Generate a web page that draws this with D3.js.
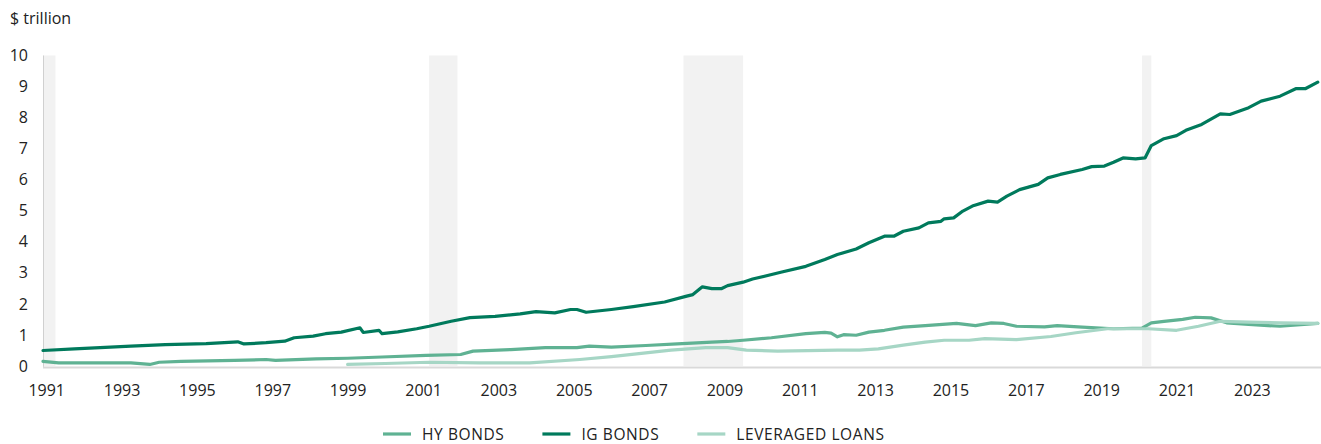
<!DOCTYPE html>
<html>
<head>
<meta charset="utf-8">
<script src="https://cdn.jsdelivr.net/npm/d3@7"></script>
<style>
  body { margin: 0; background: #fff; }
  svg { display: block; font-family: "Open Sans", sans-serif; }
  .tick-label { fill: #222; }
</style>
</head>
<body>
<svg id="chart"></svg>
<script>
// values, $ trillion
var igBonds = [
  ["1990-12", 0.50], ["1991-10", 0.55], ["1993-04", 0.64], ["1994-03", 0.69],
  ["1995-04", 0.72], ["1996-02", 0.78], ["1996-04", 0.71], ["1996-11", 0.75],
  ["1997-05", 0.80], ["1997-08", 0.91], ["1998-02", 0.96], ["1998-06", 1.04],
  ["1998-11", 1.09], ["1999-05", 1.23], ["1999-06", 1.08], ["1999-11", 1.15],
  ["1999-12", 1.04], ["2000-05", 1.10], ["2000-11", 1.20], ["2001-03", 1.28],
  ["2001-10", 1.44], ["2002-04", 1.56], ["2002-12", 1.60], ["2003-08", 1.68],
  ["2004-01", 1.75], ["2004-07", 1.71], ["2004-12", 1.82], ["2005-02", 1.82],
  ["2005-05", 1.73], ["2006-01", 1.82], ["2006-08", 1.91], ["2007-06", 2.06],
  ["2008-01", 2.25], ["2008-03", 2.30], ["2008-06", 2.55], ["2008-09", 2.49],
  ["2008-12", 2.49], ["2009-02", 2.59], ["2009-07", 2.70], ["2009-10", 2.80],
  ["2010-07", 3.02], ["2011-03", 3.21], ["2011-09", 3.43], ["2012-01", 3.59],
  ["2012-07", 3.77], ["2012-11", 3.97], ["2013-04", 4.18], ["2013-07", 4.18],
  ["2013-10", 4.34], ["2014-03", 4.45], ["2014-06", 4.61], ["2014-10", 4.66],
  ["2014-11", 4.74], ["2015-02", 4.77], ["2015-05", 4.99], ["2015-08", 5.15],
  ["2016-01", 5.31], ["2016-04", 5.28], ["2016-07", 5.47], ["2016-11", 5.68],
  ["2017-05", 5.85], ["2017-08", 6.06], ["2017-12", 6.17], ["2018-07", 6.33],
  ["2018-10", 6.42], ["2019-02", 6.44], ["2019-05", 6.56], ["2019-08", 6.70],
  ["2019-12", 6.67], ["2020-03", 6.70], ["2020-05", 7.10], ["2020-09", 7.32],
  ["2021-01", 7.42], ["2021-04", 7.59], ["2021-09", 7.78], ["2022-03", 8.12],
  ["2022-06", 8.10], ["2022-12", 8.32], ["2023-04", 8.53], ["2023-10", 8.69],
  ["2024-03", 8.93], ["2024-06", 8.93], ["2024-10", 9.14]
];

var hyBonds = [
  ["1990-12", 0.15], ["1991-05", 0.10], ["1993-04", 0.10], ["1993-10", 0.05],
  ["1994-01", 0.12], ["1994-08", 0.15], ["1996-01", 0.18], ["1996-11", 0.21],
  ["1997-02", 0.18], ["1998-03", 0.23], ["1999-01", 0.25], ["1999-12", 0.29],
  ["2001-02", 0.34], ["2002-01", 0.37], ["2002-05", 0.48], ["2003-05", 0.53],
  ["2004-04", 0.59], ["2005-02", 0.59], ["2005-06", 0.64], ["2006-01", 0.61],
  ["2006-12", 0.66], ["2007-10", 0.71], ["2008-09", 0.77], ["2009-02", 0.79],
  ["2009-07", 0.83], ["2010-04", 0.91], ["2011-03", 1.04], ["2011-09", 1.08],
  ["2011-11", 1.06], ["2012-01", 0.94], ["2012-03", 1.01], ["2012-07", 0.99],
  ["2012-11", 1.09], ["2013-04", 1.15], ["2013-10", 1.25], ["2014-05", 1.30],
  ["2015-03", 1.37], ["2015-09", 1.30], ["2016-02", 1.39], ["2016-06", 1.37],
  ["2016-10", 1.28], ["2017-07", 1.26], ["2017-11", 1.30], ["2018-07", 1.25],
  ["2019-05", 1.20], ["2020-02", 1.22], ["2020-05", 1.39], ["2020-09", 1.44],
  ["2021-03", 1.50], ["2021-07", 1.57], ["2021-12", 1.55], ["2022-05", 1.39],
  ["2022-12", 1.34], ["2023-10", 1.28], ["2024-10", 1.37]
];

var leveragedLoans = [
  ["1999-01", 0.05], ["2000-01", 0.08], ["2001-03", 0.12], ["2002-07", 0.10],
  ["2003-11", 0.10], ["2005-03", 0.21], ["2006-01", 0.30], ["2006-12", 0.42],
  ["2007-08", 0.51], ["2008-07", 0.59], ["2009-02", 0.59], ["2009-08", 0.51],
  ["2010-06", 0.48], ["2012-01", 0.51], ["2012-08", 0.51], ["2013-02", 0.55],
  ["2013-10", 0.67], ["2014-05", 0.77], ["2014-11", 0.83], ["2015-07", 0.83],
  ["2015-12", 0.88], ["2016-10", 0.85], ["2017-09", 0.95], ["2018-05", 1.07],
  ["2019-03", 1.20], ["2020-04", 1.20], ["2021-01", 1.15], ["2021-08", 1.28],
  ["2022-03", 1.44], ["2022-12", 1.41], ["2023-10", 1.39], ["2024-10", 1.37]
];

// US recessions (start, first month after end)
var recessions = [
  ["1990-07", "1991-04"], ["2001-03", "2001-12"],
  ["2007-12", "2009-07"], ["2020-02", "2020-05"]
];

var yearTicks = [1991, 1993, 1995, 1997, 1999, 2001, 2003, 2005, 2007, 2009,
  2011, 2013, 2015, 2017, 2019, 2021, 2023];
var valueTicks = [0, 1, 2, 3, 4, 5, 6, 7, 8, 9, 10];

var series = [
  { name: "HY BONDS", data: hyBonds, color: "#5fb293" },
  { name: "IG BONDS", data: igBonds, color: "#007a5c" },
  { name: "LEVERAGED LOANS", data: leveragedLoans, color: "#a6d6c5" }
];

var width = 1321;
var height = 444;
var parseMonth = d3.timeParse("%Y-%m");

var svg = d3.select("#chart")
  .attr("width", width)
  .attr("height", height);

var x = d3.scaleTime()
  .domain([parseMonth("1990-12"), parseMonth("2024-11")])
  .range([43, 1321]);

var y = d3.scaleLinear()
  .domain([0, 10])
  .range([366, 55.5]);

svg.append("clipPath").attr("id", "plot-clip")
  .append("rect")
    .attr("x", 43).attr("y", 0)
    .attr("width", width - 43).attr("height", height);

// recession shading
svg.append("g")
  .attr("clip-path", "url(#plot-clip)")
  .selectAll("rect")
  .data(recessions)
  .enter()
  .append("rect")
    .attr("x", d => x(parseMonth(d[0])))
    .attr("width", d => x(parseMonth(d[1])) - x(parseMonth(d[0])))
    .attr("y", y(10))
    .attr("height", y(0) - y(10))
    .attr("fill", "#f2f2f2");

// left edge + baseline
svg.append("line")
  .attr("x1", 43.5).attr("x2", 43.5)
  .attr("y1", y(10)).attr("y2", y(0) + 2)
  .attr("stroke", "#d0d0d0")
  .attr("stroke-width", 1);

svg.append("line")
  .attr("x1", 43).attr("x2", width)
  .attr("y1", y(0) + 1.5).attr("y2", y(0) + 1.5)
  .attr("stroke", "#d9d9d9")
  .attr("stroke-width", 2);

// y axis
var yAxis = svg.append("g")
  .attr("transform", "translate(28,0)")
  .call(d3.axisLeft(y).tickValues(valueTicks).tickSize(0).tickPadding(0));
yAxis.select(".domain").remove();
yAxis.selectAll("text")
  .attr("class", "tick-label")
  .attr("font-size", 16)
  .attr("font-family", "'Open Sans', sans-serif");

// x axis
var xAxis = svg.append("g")
  .attr("transform", "translate(0," + (y(0) + 19) + ")")
  .call(d3.axisBottom(x)
    .tickValues(yearTicks.map(d => new Date(d, 0, 1)))
    .tickFormat(d3.timeFormat("%Y"))
    .tickSize(0)
    .tickPadding(0));
xAxis.select(".domain").remove();
xAxis.selectAll("text")
  .attr("class", "tick-label")
  .attr("font-size", 16)
  .attr("font-family", "'Open Sans', sans-serif");

svg.append("text")
  .attr("x", 10)
  .attr("y", 24)
  .attr("font-size", 16)
  .attr("fill", "#222")
  .text("$ trillion");

// lines
var line = d3.line()
  .x(d => x(parseMonth(d[0])))
  .y(d => y(d[1]));

svg.append("g")
  .selectAll("path")
  .data(series)
  .enter()
  .append("path")
    .attr("d", d => line(d.data))
    .attr("fill", "none")
    .attr("stroke", d => d.color)
    .attr("stroke-width", 3.2)
    .attr("stroke-linejoin", "round")
    .attr("stroke-linecap", "round");

// legend
var legend = svg.append("g").attr("transform", "translate(383,434)");
var cursor = 0;
series.forEach(function(s) {
  var item = legend.append("g").attr("transform", "translate(" + cursor + ",0)");
  item.append("line")
    .attr("x1", 0).attr("x2", 28)
    .attr("stroke", s.color)
    .attr("stroke-width", 3.2);
  var label = item.append("text")
    .attr("x", 39)
    .attr("y", 6)
    .attr("font-size", 15.5)
    .attr("letter-spacing", "0.6px")
    .attr("fill", "#222")
    .text(s.name);
  cursor += 39 + label.node().getComputedTextLength() + 38;
});
</script>
</body>
</html>
